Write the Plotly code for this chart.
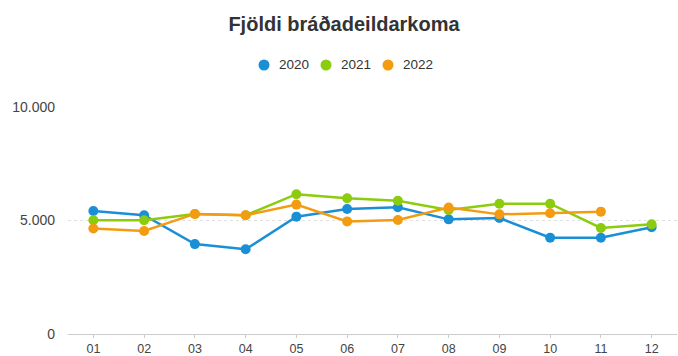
import plotly.graph_objects as go

months = ["01", "02", "03", "04", "05", "06", "07", "08", "09", "10", "11", "12"]
visits_2020 = [5420, 5230, 3960, 3730, 5170, 5510, 5580, 5050, 5110, 4240, 4240, 4700]
visits_2021 = [5010, 5010, 5290, 5230, 6160, 5980, 5870, 5460, 5740, 5740, 4670, 4830]
visits_2022 = [4650, 4540, 5290, 5230, 5700, 4960, 5020, 5570, 5270, 5320, 5390]

series = [
    ("2020", visits_2020, "#1a8fd6"),
    ("2021", visits_2021, "#8ccc0e"),
    ("2022", visits_2022, "#f39c12"),
]

W, H = 678, 356
L, R, T, B = 68, 1, 107, 22
plot_w, plot_h = W - L - R, H - T - B

fig = go.Figure()
for name, vals, color in series:
    fig.add_trace(go.Scatter(
        x=months[:len(vals)], y=vals, name=name, mode="lines+markers",
        line=dict(color=color, width=2.5),
        marker=dict(color=color, size=10),
        showlegend=False,
    ))

# Compact dot legend above the plot: a circle and a label per series
legend_left_px, legend_step_px, legend_y_px = 264, 62, 65
for i, (name, _, color) in enumerate(series):
    cx = legend_left_px + i * legend_step_px
    px = (cx - L) / plot_w
    py = (H - B - legend_y_px) / plot_h
    fig.add_shape(
        type="circle", xref="paper", yref="paper",
        xsizemode="pixel", ysizemode="pixel", xanchor=px, yanchor=py,
        x0=-5.5, x1=5.5, y0=-5.5, y1=5.5,
        fillcolor=color, line=dict(width=0),
    )
    fig.add_annotation(
        text=name, xref="paper", yref="paper",
        x=(cx + 13 - L) / plot_w, y=py, xanchor="left", yanchor="middle",
        showarrow=False, font=dict(size=13.5, color="#333333"),
    )

fig.update_layout(
    width=W, height=H,
    margin=dict(l=L, r=R, t=T, b=B),
    paper_bgcolor="white", plot_bgcolor="white",
    separators=",.",
    font=dict(family="Liberation Sans, Arial, sans-serif", color="#444444", size=13),
    title=dict(text="<b>Fjöldi bráðadeildarkoma</b>", xref="container",
               x=344 / W, xanchor="center",
               y=1 - 24 / H, yanchor="middle",
               font=dict(size=20, color="#333333")),
    showlegend=False,
    hovermode="x",
)
fig.update_xaxes(
    type="category", range=[-0.5, len(months) - 0.5],
    showgrid=False, showline=True, linecolor="#cccccc",
    linewidth=1, ticks="outside", ticklen=3, tickcolor="#cccccc",
    tickfont=dict(size=12.5, color="#444444"), zeroline=False, automargin=False,
)
fig.update_yaxes(
    range=[0, 10000], tickvals=[0, 5000, 10000], tickformat=",d",
    showgrid=True, gridcolor="#e0e0e0", griddash="dot", gridwidth=1,
    zeroline=False, showline=False, ticks="", ticklabelstandoff=12,
    tickfont=dict(size=14, color="#444444"), automargin=False,
)

fig.write_html("out.html")
